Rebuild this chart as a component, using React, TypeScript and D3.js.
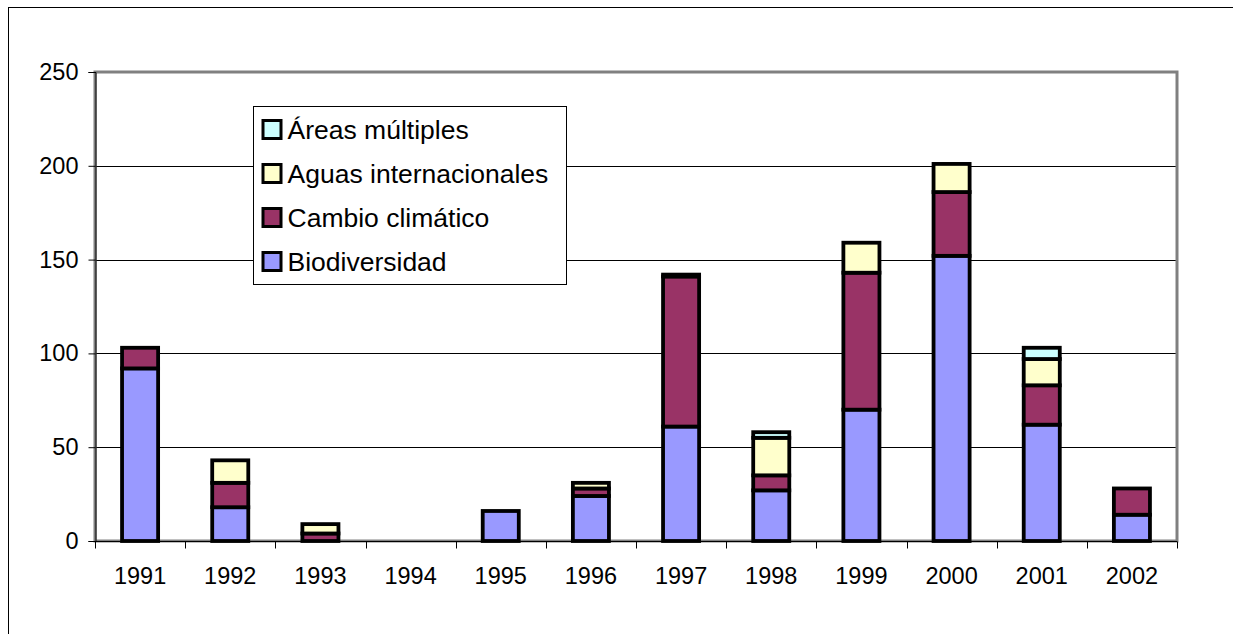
import React, { useEffect, useRef } from 'react';
import * as d3 from 'd3';

const YEARS = ['1991', '1992', '1993', '1994', '1995', '1996', '1997', '1998', '1999', '2000', '2001', '2002'];

// values, bottom to top of each stack
const BIODIVERSIDAD = [92, 18, 0, 0, 16, 24, 61, 27, 70, 152, 62, 14];
const CAMBIO_CLIMATICO = [11, 13, 4, 0, 0, 4, 80, 8, 73, 34, 21, 14];
const AGUAS_INTERNACIONALES = [0, 12, 5, 0, 0, 3, 1, 20, 16, 15, 14, 0];
const AREAS_MULTIPLES = [0, 0, 0, 0, 0, 0, 0, 3, 0, 0, 6, 0];

const SERIES = ['Biodiversidad', 'Cambio climático', 'Aguas internacionales', 'Áreas múltiples'];
const COLORS: Record<string, string> = {
  Biodiversidad: '#9999FF',
  'Cambio climático': '#993366',
  'Aguas internacionales': '#FFFFCC',
  'Áreas múltiples': '#CCFFFF',
};

const Y_TICKS = [0, 50, 100, 150, 200, 250];

const W = 1233;
const H = 634;
const FONT = 'Liberation Sans, Arial, sans-serif';

const App: React.FC = () => {
  const svgRef = useRef<SVGSVGElement>(null);

  useEffect(() => {
    if (!svgRef.current) return;
    const svg = d3.select(svgRef.current);
    svg.selectAll('*').remove();

    const plot = { left: 95, right: 1177, top: 72, bottom: 541 };

    // outer chart frame (runs off the right/bottom edge)
    svg.append('rect')
      .attr('x', 8.5).attr('y', 7.5)
      .attr('width', W + 20).attr('height', H + 20)
      .attr('fill', '#fff').attr('stroke', '#000').attr('stroke-width', 1);

    const x = d3.scaleBand<string>()
      .domain(YEARS)
      .range([plot.left, plot.right])
      .paddingInner(0.6)
      .paddingOuter(0.3);

    const y = d3.scaleLinear().domain([0, 250]).range([plot.bottom, plot.top]);

    const table = YEARS.map((yr, i) => ({
      year: yr,
      Biodiversidad: BIODIVERSIDAD[i],
      'Cambio climático': CAMBIO_CLIMATICO[i],
      'Aguas internacionales': AGUAS_INTERNACIONALES[i],
      'Áreas múltiples': AREAS_MULTIPLES[i],
    }));
    const stacked = d3.stack<any>().keys(SERIES)(table);

    // gridlines
    svg.append('g')
      .selectAll('line')
      .data(Y_TICKS.filter((t) => t > 0 && t < 250))
      .join('line')
      .attr('x1', plot.left).attr('x2', plot.right)
      .attr('y1', (d) => Math.round(y(d)) + 0.5).attr('y2', (d) => Math.round(y(d)) + 0.5)
      .attr('stroke', '#000').attr('stroke-width', 1);

    // plot area border
    svg.append('rect')
      .attr('x', plot.left).attr('y', plot.top)
      .attr('width', plot.right - plot.left).attr('height', plot.bottom - plot.top)
      .attr('fill', 'none').attr('stroke', '#808080').attr('stroke-width', 3);

    // bars
    const bars = svg.append('g');
    stacked.forEach((layer) => {
      bars.append('g')
        .selectAll('rect')
        .data(layer.filter((d) => d[1] - d[0] > 0))
        .join('rect')
        .attr('x', (d) => x(d.data.year)!)
        .attr('width', x.bandwidth())
        .attr('y', (d) => y(d[1]))
        .attr('height', (d) => y(d[0]) - y(d[1]))
        .attr('fill', COLORS[layer.key])
        .attr('stroke', '#000')
        .attr('stroke-width', 3.8);
    });

    // y axis
    const yAxis = svg.append('g')
      .attr('transform', `translate(${plot.left + 0.5},0)`)
      .call(d3.axisLeft(y).tickValues(Y_TICKS).tickSize(7).tickPadding(10));
    yAxis.select('.domain').attr('stroke', '#000');
    yAxis.selectAll('.tick line').attr('stroke', '#000');
    yAxis.selectAll('.tick text')
      .attr('font-family', FONT).attr('font-size', 23.5).attr('fill', '#000');

    // x axis, ticks between categories
    const xAxis = svg.append('g').attr('transform', `translate(0,${plot.bottom + 0.5})`);
    xAxis.append('line')
      .attr('x1', plot.left).attr('x2', plot.right)
      .attr('stroke', '#000');
    const step = x.step();
    xAxis.selectAll('line.sep')
      .data(d3.range(YEARS.length + 1))
      .join('line')
      .attr('class', 'sep')
      .attr('x1', (i) => Math.round(plot.left + i * step) + 0.5)
      .attr('x2', (i) => Math.round(plot.left + i * step) + 0.5)
      .attr('y1', 0).attr('y2', 7)
      .attr('stroke', '#000');
    xAxis.selectAll('text')
      .data(YEARS)
      .join('text')
      .attr('x', (d) => x(d)! + x.bandwidth() / 2)
      .attr('y', 42)
      .attr('text-anchor', 'middle')
      .attr('font-family', FONT).attr('font-size', 23.5).attr('fill', '#000')
      .text((d) => d);

    // legend
    const legend = svg.append('g').attr('transform', 'translate(253.5,106.5)');
    legend.append('rect')
      .attr('width', 313).attr('height', 178)
      .attr('fill', '#fff').attr('stroke', '#000').attr('stroke-width', 1);
    const order = [...SERIES].reverse();
    order.forEach((s, i) => {
      const cy = 23 + i * 44;
      legend.append('rect')
        .attr('x', 9.5).attr('y', cy - 9)
        .attr('width', 18).attr('height', 18)
        .attr('fill', COLORS[s]).attr('stroke', '#000').attr('stroke-width', 3);
      legend.append('text')
        .attr('x', 34).attr('y', cy + 9)
        .attr('font-family', FONT).attr('font-size', 26.5).attr('fill', '#000')
        .text(s);
    });
  }, []);

  return (
    <svg
      ref={svgRef}
      width={W}
      height={H}
      style={{ position: 'absolute', left: 0, top: 0, background: '#fff' }}
    />
  );
};

export default App;
